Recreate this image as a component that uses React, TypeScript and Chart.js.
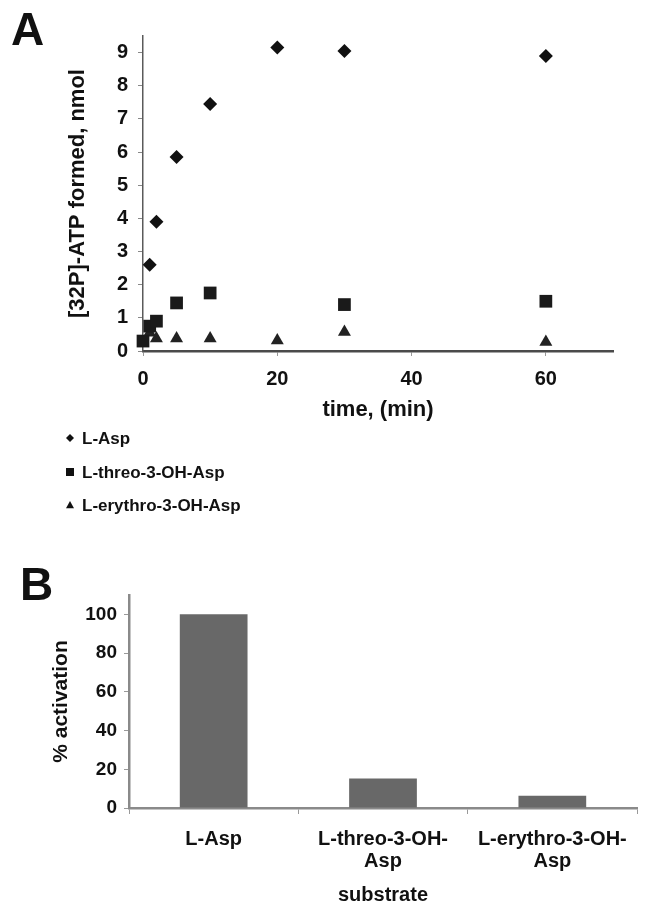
import React, { useEffect, useRef } from 'react';
import { Chart, registerables } from 'chart.js';

Chart.register(...registerables);

const FONT = '"Liberation Sans", Arial, Helvetica, sans-serif';

// ---- Panel A data ----
const timePoints = [0, 1, 2, 5, 10, 20, 30, 60];
const lAspFormed = [null, 2.6, 3.9, 5.85, 7.45, 9.15, 9.05, 8.9];
const lThreoFormed = [0.3, 0.75, 0.9, 1.45, 1.75, null, 1.4, 1.5];
const lErythroFormed = [null, 0.55, 0.38, 0.38, 0.38, 0.32, 0.57, 0.27];
const seriesNames = ['L-Asp', 'L-threo-3-OH-Asp', 'L-erythro-3-OH-Asp'];
const seriesStyles = ['rectRot', 'rect', 'triangle'];
const timeTicks = [0, 20, 40, 60];
const nmolTicks = [0, 1, 2, 3, 4, 5, 6, 7, 8, 9];

// ---- Panel B data ----
const substrates = [['L-Asp'], ['L-threo-3-OH-', 'Asp'], ['L-erythro-3-OH-', 'Asp']];
const activation = [100, 15.2, 6.3];
const activationTicks = [0, 20, 40, 60, 80, 100];

const toPoints = (vals: (number | null)[]) =>
  timePoints
    .map((t, i) => ({ x: t, y: vals[i] }))
    .filter((p) => p.y !== null);

function drawMarker(ctx: CanvasRenderingContext2D, style: string, x: number, y: number, r: number) {
  ctx.beginPath();
  if (style === 'rectRot') {
    ctx.moveTo(x, y - r);
    ctx.lineTo(x + r, y);
    ctx.lineTo(x, y + r);
    ctx.lineTo(x - r, y);
  } else if (style === 'rect') {
    ctx.rect(x - r, y - r, 2 * r, 2 * r);
  } else {
    ctx.moveTo(x, y - r);
    ctx.lineTo(x + r, y + r * 0.8);
    ctx.lineTo(x - r, y + r * 0.8);
  }
  ctx.closePath();
  ctx.fill();
}

const legendPlugin = {
  id: 'panelALegend',
  afterDraw(chart: any) {
    const ctx: CanvasRenderingContext2D = chart.ctx;
    ctx.save();
    ctx.fillStyle = '#111';
    ctx.font = `bold 17px ${FONT}`;
    ctx.textBaseline = 'middle';
    ctx.textAlign = 'left';
    const rows = [438, 472, 505];
    seriesNames.forEach((name, i) => {
      drawMarker(ctx, seriesStyles[i], 70, rows[i], 4);
      ctx.fillText(name, 82, rows[i] + 1);
    });
    ctx.font = `bold 46px ${FONT}`;
    ctx.textBaseline = 'alphabetic';
    ctx.fillText('A', 11, 45);
    ctx.restore();
  },
};

const letterBPlugin = {
  id: 'panelBLetter',
  afterDraw(chart: any) {
    const ctx: CanvasRenderingContext2D = chart.ctx;
    ctx.save();
    ctx.fillStyle = '#111';
    ctx.font = `bold 46px ${FONT}`;
    ctx.textBaseline = 'alphabetic';
    ctx.textAlign = 'left';
    ctx.fillText('B', 20, 60);
    ctx.restore();
  },
};

function PanelA() {
  const ref = useRef<HTMLCanvasElement>(null);
  useEffect(() => {
    if (!ref.current) return;
    const chart = new Chart(ref.current, {
      type: 'scatter',
      data: {
        datasets: [
          {
            label: seriesNames[0],
            data: toPoints(lAspFormed),
            pointStyle: 'rectRot',
            pointRadius: 7,
            backgroundColor: '#111',
            borderColor: '#111',
            borderWidth: 0,
            clip: false,
          },
          {
            label: seriesNames[1],
            data: toPoints(lThreoFormed),
            pointStyle: 'rect',
            pointRadius: 9,
            backgroundColor: '#1a1a1a',
            borderColor: '#1a1a1a',
            borderWidth: 0,
            clip: false,
          },
          {
            label: seriesNames[2],
            data: toPoints(lErythroFormed),
            pointStyle: 'triangle',
            pointRadius: 7.5,
            backgroundColor: '#222',
            borderColor: '#222',
            borderWidth: 0,
            clip: false,
          },
        ],
      } as any,
      options: {
        animation: false,
        responsive: false,
        events: [],
        layout: { padding: { left: 0, right: 39, top: 36, bottom: 104 } },
        plugins: { legend: { display: false }, tooltip: { enabled: false } },
        scales: {
          x: {
            type: 'linear',
            min: 0,
            max: 70,
            afterBuildTicks: (s: any) => {
              s.ticks = timeTicks.map((v) => ({ value: v }));
            },
            afterFit: (s: any) => {
              s.height = 75;
            },
            grid: { drawOnChartArea: false, drawTicks: true, tickLength: 5, color: '#999' },
            border: { color: '#4a4a4a', width: 2.5 },
            ticks: {
              color: '#111',
              font: { family: FONT, size: 20, weight: 'bold' },
              padding: 11,
              maxRotation: 0,
            },
            title: {
              display: true,
              text: 'time, (min)',
              color: '#111',
              font: { family: FONT, size: 22, weight: 'bold' },
              padding: { top: 0, bottom: 3 },
            },
          },
          y: {
            type: 'linear',
            min: 0,
            max: 9.5,
            afterBuildTicks: (s: any) => {
              s.ticks = nmolTicks.map((v) => ({ value: v }));
            },
            afterFit: (s: any) => {
              s.width = 143;
            },
            grid: { drawOnChartArea: false, drawTicks: true, tickLength: 5, color: '#888' },
            border: { color: '#5a5a5a', width: 1.5 },
            ticks: {
              color: '#111',
              font: { family: FONT, size: 20, weight: 'bold' },
              padding: 10,
            },
            title: {
              display: true,
              text: '[32P]-ATP formed, nmol',
              color: '#111',
              font: { family: FONT, size: 22, weight: 'bold' },
              padding: { top: 65, bottom: 0 },
            },
          },
        },
      } as any,
      plugins: [legendPlugin],
    });
    return () => chart.destroy();
  }, []);
  return <canvas ref={ref} width={652} height={530} style={{ display: 'block' }} />;
}

function PanelB() {
  const ref = useRef<HTMLCanvasElement>(null);
  useEffect(() => {
    if (!ref.current) return;
    const chart = new Chart(ref.current, {
      type: 'bar',
      data: {
        labels: substrates,
        datasets: [
          {
            label: '% activation',
            data: activation,
            backgroundColor: '#686868',
            borderWidth: 0,
            categoryPercentage: 0.4,
            barPercentage: 1,
          },
        ],
      } as any,
      options: {
        animation: false,
        responsive: false,
        events: [],
        layout: { padding: { left: 0, right: 15, top: 55, bottom: 0 } },
        plugins: { legend: { display: false }, tooltip: { enabled: false } },
        scales: {
          x: {
            afterFit: (s: any) => {
              s.height = 110;
            },
            grid: { drawOnChartArea: false, drawTicks: true, tickLength: 6, color: '#999', offset: true },
            border: { color: '#8a8a8a', width: 2.5 },
            ticks: {
              color: '#111',
              font: { family: FONT, size: 20, weight: 'bold', lineHeight: 1.1 },
              padding: 14,
              maxRotation: 0,
              autoSkip: false,
            },
            title: {
              display: true,
              text: 'substrate',
              color: '#111',
              font: { family: FONT, size: 20, weight: 'bold' },
              padding: { top: 0, bottom: 11 },
            },
          },
          y: {
            type: 'linear',
            min: 0,
            max: 110,
            afterBuildTicks: (s: any) => {
              s.ticks = activationTicks.map((v) => ({ value: v }));
            },
            afterFit: (s: any) => {
              s.width = 129;
            },
            grid: { drawOnChartArea: false, drawTicks: true, tickLength: 5, color: '#999' },
            border: { color: '#8a8a8a', width: 2.5 },
            ticks: {
              color: '#111',
              font: { family: FONT, size: 19, weight: 'bold' },
              padding: 7,
            },
            title: {
              display: true,
              text: '% activation',
              color: '#111',
              font: { family: FONT, size: 21, weight: 'bold' },
              padding: { top: 49, bottom: 0 },
            },
          },
        },
      } as any,
      plugins: [letterBPlugin],
    });
    return () => chart.destroy();
  }, []);
  return <canvas ref={ref} width={652} height={378} style={{ display: 'block' }} />;
}

export default function App() {
  return (
    <div style={{ position: 'absolute', left: 0, top: 0, width: 652, height: 918, background: '#fff' }}>
      <div style={{ position: 'absolute', left: 0, top: 0, width: 652, height: 530 }}>
        <PanelA />
      </div>
      <div style={{ position: 'absolute', left: 0, top: 540, width: 652, height: 378 }}>
        <PanelB />
      </div>
    </div>
  );
}
